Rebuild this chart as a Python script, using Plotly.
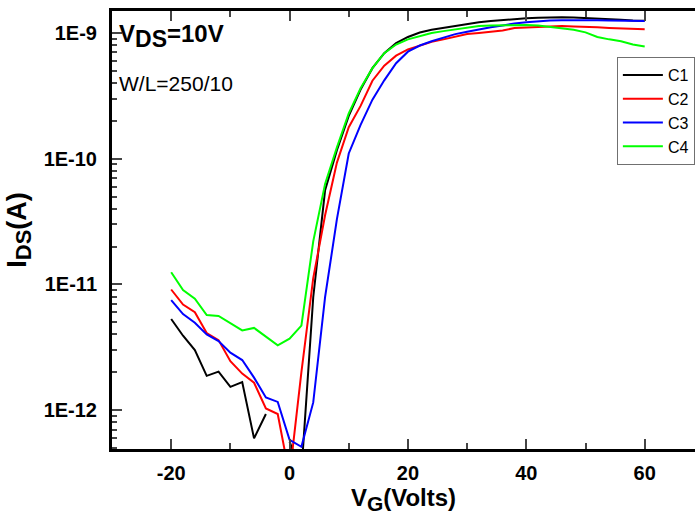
import plotly.graph_objects as go

vg = list(range(-20, 62, 2))

c1 = [5.3e-12, 3.9e-12, 3.0e-12, 1.87e-12, 2.02e-12, 1.53e-12, 1.67e-12, 5.95e-13, 9.3e-13, None,
      5.6e-13, 3.2e-13, 7.9e-12, 5.6e-11, 1.17e-10, 2.19e-10, 3.55e-10, 5.25e-10, 6.9e-10, 8.3e-10,
      9.3e-10, 1.01e-9, 1.06e-9, 1.10e-9, 1.135e-9, 1.175e-9, 1.215e-9, 1.245e-9, 1.27e-9, 1.295e-9,
      1.31e-9, 1.325e-9, 1.333e-9, 1.333e-9, 1.327e-9, 1.318e-9, 1.303e-9, 1.288e-9, 1.274e-9, 1.259e-9,
      1.253e-9]
c2 = [9.1e-12, 6.9e-12, 6.0e-12, 4.1e-12, 3.6e-12, 2.45e-12, 1.95e-12, 1.65e-12, 1.03e-12, 9.3e-13,
      3.0e-13, 2.0e-12, 1.12e-11, 3.55e-11, 9.3e-11, 1.78e-10, 2.63e-10, 4.17e-10, 5.5e-10, 6.6e-10,
      7.4e-10, 7.95e-10, 8.5e-10, 8.9e-10, 9.3e-10, 9.8e-10, 1.0e-9, 1.023e-9, 1.047e-9, 1.096e-9,
      1.109e-9, 1.122e-9, 1.135e-9, 1.135e-9, 1.127e-9, 1.122e-9, 1.109e-9, 1.096e-9, 1.089e-9, 1.079e-9,
      1.072e-9]
c3 = [7.5e-12, 5.8e-12, 4.95e-12, 4.0e-12, 3.54e-12, 2.86e-12, 2.5e-12, 1.81e-12, 1.26e-12, 1.16e-12,
      5.8e-13, 5.1e-13, 1.15e-12, 7.9e-12, 3.3e-11, 1.1e-10, 1.86e-10, 2.95e-10, 4.2e-10, 5.75e-10,
      7.1e-10, 7.95e-10, 8.6e-10, 9.2e-10, 9.8e-10, 1.023e-9, 1.07e-9, 1.11e-9, 1.148e-9, 1.19e-9,
      1.216e-9, 1.245e-9, 1.259e-9, 1.265e-9, 1.268e-9, 1.268e-9, 1.265e-9, 1.259e-9, 1.253e-9, 1.247e-9,
      1.245e-9]
c4 = [1.25e-11, 9.0e-12, 7.7e-12, 5.7e-12, 5.6e-12, 4.9e-12, 4.3e-12, 4.5e-12, 3.84e-12, 3.27e-12,
      3.7e-12, 4.7e-12, 2.2e-11, 6.3e-11, 1.23e-10, 2.29e-10, 3.63e-10, 5.25e-10, 6.9e-10, 8.1e-10,
      8.9e-10, 9.44e-10, 1.0e-9, 1.035e-9, 1.07e-9, 1.11e-9, 1.135e-9, 1.148e-9, 1.156e-9, 1.16e-9,
      1.16e-9, 1.148e-9, 1.122e-9, 1.096e-9, 1.06e-9, 1.012e-9, 9.3e-10, 8.9e-10, 8.6e-10, 8.1e-10,
      7.8e-10]

names = ["C1", "C2", "C3", "C4"]
colors = ["#000000", "#ff0000", "#0000ff", "#00ff00"]
series = [c1, c2, c3, c4]

y_major = [1e-12, 1e-11, 1e-10, 1e-9]
y_labels = ["1E-12", "1E-11", "1E-10", "1E-9"]
x_major = [-20, 0, 20, 40, 60]
x_labels = ["-20", "0", "20", "40", "60"]

FONT = "Liberation Sans, Arial"

fig = go.Figure()
for n, c, s in zip(names, colors, series):
    fig.add_trace(go.Scatter(x=vg, y=s, mode="lines", name=n,
                             line=dict(color=c, width=2), connectgaps=False))

minor_y = [m * d for d in [1e-13, 1e-12, 1e-11, 1e-10, 1e-9] for m in range(2, 10)]

fig.update_layout(
    width=695, height=515,
    margin=dict(l=112, r=0, t=11, b=66),
    paper_bgcolor="white", plot_bgcolor="white",
    font=dict(family=FONT, color="black"),
    showlegend=True,
    legend=dict(x=0.866, y=0.895, xanchor="left", yanchor="top",
                bgcolor="white", bordercolor="#707070", borderwidth=1,
                font=dict(size=16, family=FONT),
                tracegroupgap=0, itemwidth=40),
    xaxis=dict(range=[-30, 68.5], tickvals=x_major, ticktext=x_labels,
               ticks="inside", ticklen=10, tickwidth=2,
               showline=True, linewidth=3, linecolor="black", mirror="ticks",
               showgrid=False, zeroline=False, ticklabelstandoff=4,
               tickfont=dict(size=20, family=FONT, weight="bold"),
               minor=dict(dtick=10, tick0=0, ticks="inside", ticklen=6, tickwidth=2, showgrid=False),
               title=dict(text="<b>V<sub><span style='font-size:21px'>G</span></sub>(Volts)</b>",
                          font=dict(size=24), standoff=6)),
    yaxis=dict(type="log", range=[-12.31, -8.825], tickvals=y_major, ticktext=y_labels,
               ticks="inside", ticklen=10, tickwidth=2,
               showline=True, linewidth=3, linecolor="black", mirror=False,
               showgrid=False, zeroline=False, ticklabelstandoff=8,
               tickfont=dict(size=20, family=FONT, weight="bold"),
               minor=dict(tickvals=minor_y, ticks="inside", ticklen=5, tickwidth=2, showgrid=False),
               title=dict(text="<b>I<sub><span style='font-size:22px'>DS</span></sub>(A)</b>",
                          font=dict(size=27), standoff=10)),
    annotations=[
        dict(text="<b>V<sub><span style='font-size:23px'>DS</span></sub>=10V</b>",
             xref="paper", yref="paper", x=0.008, y=0.985,
             xanchor="left", yanchor="top", showarrow=False,
             font=dict(size=24, family=FONT)),
        dict(text="W/L=250/10", xref="paper", yref="paper", x=0.008, y=0.865,
             xanchor="left", yanchor="top", showarrow=False,
             font=dict(size=21, family=FONT)),
    ],
)

fig.write_html("out.html", config={"displayModeBar": False},
               post_script="document.body.style.margin='0';document.body.style.overflow='hidden';")
